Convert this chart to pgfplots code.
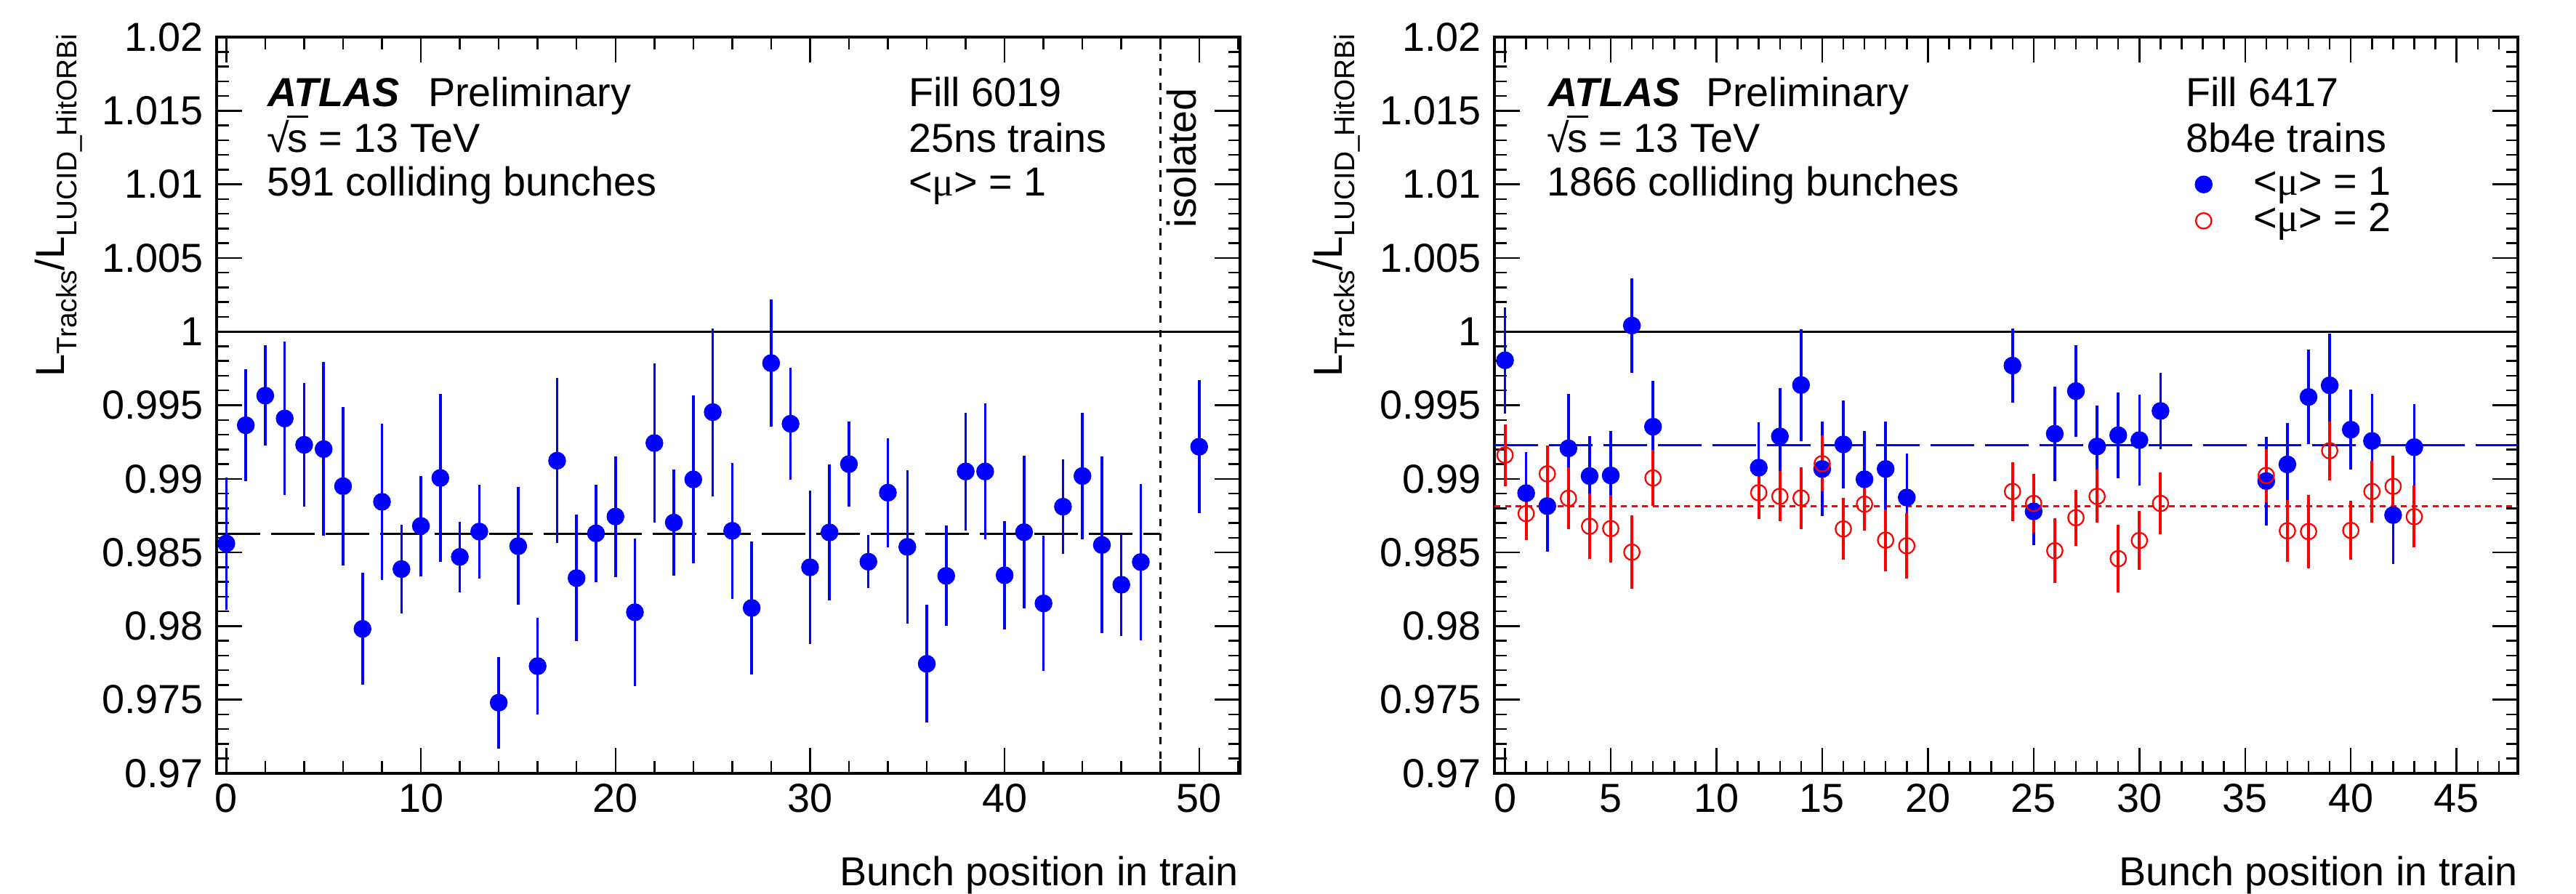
\documentclass[border=0pt]{standalone}
\usepackage{fontspec}
\setmainfont{Liberation Sans}
\newfontfamily\serif{Liberation Serif}
\usepackage{pgfplots}
\pgfplotsset{compat=1.18}
\usepackage{pgfplotstable}

\definecolor{rblue}{RGB}{0,0,255}
\definecolor{rred}{RGB}{255,0,0}
\newcommand\fs{\fontsize{11.2}{13}\selectfont}
\newcommand\sub[1]{\raisebox{-0.32em}{\fontsize{7.8}{8}\selectfont #1}}
\newcommand\avmu{<{\serif μ}>}
\newcommand\rts{√\kern-0.04em\makebox[0pt][l]{\rule[0.86em]{0.52em}{0.06em}}s}

% left panel: Fill 6019
\pgfplotstableread{
x y e
0 0.98561 0.0045
1 0.99364 0.0038
2 0.99565 0.0034
3 0.99410 0.0052
4 0.99231 0.0042
5 0.99202 0.0059
6 0.98950 0.0054
7 0.97981 0.0038
8 0.98844 0.0053
9 0.98387 0.0030
10 0.98680 0.0034
11 0.99006 0.0057
12 0.98470 0.0024
13 0.98642 0.0032
14 0.97480 0.0031
15 0.98543 0.0040
16 0.97728 0.0033
17 0.99123 0.0056
18 0.98326 0.0043
19 0.98630 0.0033
20 0.98744 0.0041
21 0.98094 0.0050
22 0.99243 0.0054
23 0.98703 0.0036
24 0.98996 0.0057
25 0.99453 0.0057
26 0.98647 0.0046
27 0.98123 0.0045
28 0.99786 0.0043
29 0.99374 0.0038
30 0.98399 0.0052
31 0.98636 0.0046
32 0.99100 0.0029
33 0.98437 0.0018
34 0.98906 0.0037
35 0.98538 0.0052
36 0.97744 0.0040
37 0.98341 0.0034
38 0.99050 0.0040
39 0.99050 0.0046
40 0.98345 0.0037
41 0.98638 0.0052
42 0.98154 0.0046
43 0.98811 0.0032
44 0.99019 0.0043
45 0.98551 0.0060
46 0.98281 0.0035
47 0.98435 0.0053
50 0.99218 0.0045
}\leftdata

% right panel: Fill 6417, <mu> = 1
\pgfplotstableread{
x y e
0 0.99805 0.0036
1 0.98903 0.0028
2 0.98815 0.0031
3 0.99207 0.0037
4 0.99019 0.0027
5 0.99023 0.0030
6 1.00041 0.0032
7 0.99354 0.0031
12 0.99076 0.0031
13 0.99288 0.0033
14 0.99637 0.0038
15 0.99067 0.0032
16 0.99234 0.0030
17 0.98997 0.0033
18 0.99067 0.0032
19 0.98873 0.0030
24 0.99769 0.0025
25 0.98779 0.0023
26 0.99306 0.0032
27 0.99596 0.0031
28 0.99220 0.0028
29 0.99296 0.0029
30 0.99263 0.0031
31 0.99461 0.0026
36 0.98985 0.0030
37 0.99098 0.0028
38 0.99556 0.0032
39 0.99635 0.0035
40 0.99334 0.0027
41 0.99257 0.0032
42 0.98754 0.0033
43 0.99215 0.0029
}\muone

% right panel: <mu> = 2
\pgfplotstableread{
x y e
0 0.99161 0.0021
1 0.98764 0.0018
2 0.99034 0.0019
3 0.98868 0.0021
4 0.98678 0.0022
5 0.98662 0.0023
6 0.98502 0.0025
7 0.99006 0.0019
12 0.98906 0.0018
13 0.98881 0.0017
14 0.98870 0.0021
15 0.99103 0.0019
16 0.98660 0.0021
17 0.98828 0.0018
18 0.98584 0.0021
19 0.98545 0.0022
24 0.98914 0.0020
25 0.98833 0.0020
26 0.98512 0.0022
27 0.98736 0.0019
28 0.98881 0.0018
29 0.98458 0.0023
30 0.98581 0.0020
31 0.98833 0.0021
36 0.99023 0.0018
37 0.98647 0.0021
38 0.98642 0.0025
39 0.99191 0.0020
40 0.98650 0.0020
41 0.98914 0.0021
42 0.98949 0.0021
43 0.98743 0.0021
}\mutwo

\pgfplotsset{
  atlas/.style={
    scale only axis, width=281.6bp, height=202.6bp,
    anchor=south west,
    ymin=0.97, ymax=1.02,
    ytick={0.97,0.975,0.98,0.985,0.99,0.995,1,1.005,1.01,1.015,1.02},
    yticklabels={0.97,0.975,0.98,0.985,0.99,0.995,1,1.005,1.01,1.015,1.02},
    minor y tick num=4,
    tick align=inside,
    major tick length=7bp, minor tick length=3.3bp,
    tick style={black, line width=0.5bp},
    axis line style={line width=0.7bp},
    tick label style={font=\fs},
    xticklabel style={inner sep=0pt, yshift=-2.8bp},
    yticklabel style={inner sep=0pt, xshift=-3.4bp},
  },
  ratio/.style={only marks, mark=*, mark size=2.25bp, rblue,
    error bars/.cd, y dir=both, y explicit, error mark=none,
    error bar style={line width=0.7bp, rblue}},
}

\begin{document}
\begin{tikzpicture}
\useasboundingbox (0,0) rectangle (708.8bp,246bp);

\begin{axis}[atlas, at={(59.6bp,33.2bp)},
  xmin=-0.5, xmax=52.1,
  xtick={0,10,20,30,40,50}, xticklabels={0,10,20,30,40,50},
  minor xtick={2,4,...,52}]
\addplot[black, line width=0.6bp] coordinates {(-0.5,1) (52.1,1)};
\addplot[black, line width=0.6bp, dash pattern=on 12bp off 3bp] coordinates {(-0.5,0.98626) (48,0.98626)};
\addplot[black, line width=0.5bp, dash pattern=on 2bp off 2bp] coordinates {(48,0.97) (48,1.02)};
\addplot[ratio] table[x=x, y=y, y error=e] {\leftdata};
\end{axis}

\begin{axis}[atlas, at={(411.2bp,33.2bp)},
  xmin=-0.5, xmax=47.9,
  xtick={0,5,...,45}, xticklabels={0,5,10,15,20,25,30,35,40,45},
  minor xtick={0,1,...,47},
  legend style={at={(rel axis cs:0.685,0.825)}, anchor=north west,
    draw=none, fill=none, inner sep=0pt, outer sep=0pt, font=\fs,
    row sep=-0.2bp, nodes={inner sep=0pt, text height=8bp, text depth=2.2bp}},
  legend cell align=left]
\addplot[black, line width=0.6bp, forget plot] coordinates {(-0.5,1) (47.9,1)};
\addplot[rblue, line width=0.6bp, dash pattern=on 12bp off 3bp, forget plot] coordinates {(-0.5,0.99229) (47.9,0.99229)};
\addplot[rred, line width=0.6bp, dash pattern=on 1.6bp off 1.3bp, forget plot] coordinates {(-0.5,0.98815) (47.9,0.98815)};
\addplot[ratio] table[x=x, y=y, y error=e] {\muone};
\addlegendentry{\hspace{11.4bp}\avmu\ = 1}
\addplot[only marks, mark=o, mark size=2.15bp, rred, mark options={line width=0.45bp},
  error bars/.cd, y dir=both, y explicit, error mark=none,
  error bar style={line width=0.8bp, rred}] table[x=x, y=y, y error=e] {\mutwo};
\addlegendentry{\hspace{11.4bp}\avmu\ = 2}
\end{axis}

% y axis titles
\node[rotate=90, anchor=base east, font=\fs, inner sep=0pt] at (17.6bp,236.8bp)
  {L\sub{Tracks}/L\sub{LUCID\_HitORBi}};
\node[rotate=90, anchor=base east, font=\fs, inner sep=0pt] at (369.2bp,236.8bp)
  {L\sub{Tracks}/L\sub{LUCID\_HitORBi}};
% x axis titles
\node[anchor=base east, font=\fs, inner sep=0pt] at (341bp,2.4bp) {Bunch position in train};
\node[anchor=base east, font=\fs, inner sep=0pt] at (693bp,2.4bp) {Bunch position in train};

% left panel labels
\begin{scope}[every node/.style={anchor=base west, font=\fs, inner sep=0pt}]
\node at (73.4bp,216.6bp) {\textbf{\textit{ATLAS}}};
\node at (117.6bp,216.6bp) {Preliminary};
\node at (73.2bp,204bp) {\rts\ = 13 TeV};
\node at (73.2bp,192bp) {591 colliding bunches};
\node at (249.8bp,216.6bp) {Fill 6019};
\node at (249.8bp,204bp) {25ns trains};
\node at (249.8bp,192bp) {\avmu\ = 1};
\node[rotate=90, anchor=base east] at (329bp,222bp) {isolated};
% right panel labels
\node at (425.8bp,216.6bp) {\textbf{\textit{ATLAS}}};
\node at (469.2bp,216.6bp) {Preliminary};
\node at (425.4bp,204bp) {\rts\ = 13 TeV};
\node at (425.4bp,192bp) {1866 colliding bunches};
\node at (601.2bp,216.6bp) {Fill 6417};
\node at (601.2bp,204bp) {8b4e trains};
\end{scope}
\end{tikzpicture}
\end{document}
